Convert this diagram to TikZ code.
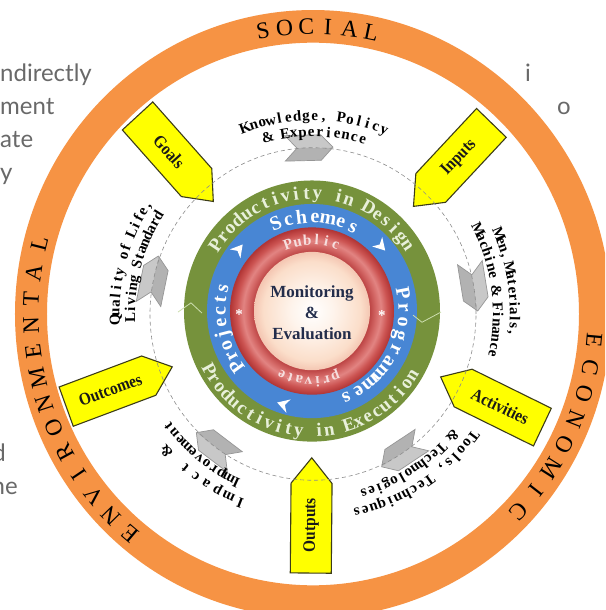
\documentclass[tikz,border=0pt]{standalone}
\usepackage{fontspec}
\usepackage{graphicx}
\setmainfont{Liberation Serif}
\newfontfamily\bgfont{Lato}
\definecolor{ringOrange}{RGB}{246,147,68}
\definecolor{ringGreen}{RGB}{118,146,60}
\definecolor{ringBlue}{RGB}{72,134,212}
\definecolor{greenTxt}{RGB}{232,240,218}
\definecolor{pinkTxt}{RGB}{246,222,222}
\definecolor{navyTxt}{RGB}{35,45,75}
\definecolor{arrowYellow}{RGB}{255,255,0}
\definecolor{arrowEdge}{RGB}{60,60,25}
\definecolor{chevFill}{RGB}{200,200,200}
\definecolor{chevDark}{RGB}{178,178,178}
\definecolor{chevEdge}{RGB}{150,150,150}
\definecolor{dashGray}{RGB}{140,140,140}
\definecolor{bgGray}{RGB}{105,105,105}
\definecolor{zigGreen}{RGB}{205,222,175}
\definecolor{tubeA}{RGB}{188,68,68}
\definecolor{tubeB}{RGB}{212,104,102}
\definecolor{tubeC}{RGB}{226,132,130}
\definecolor{tubeD}{RGB}{204,84,82}
\definecolor{tubeE}{RGB}{176,52,52}
\definecolor{peachA}{RGB}{255,255,255}
\definecolor{peachB}{RGB}{254,244,236}
\definecolor{peachC}{RGB}{251,222,202}
\definecolor{peachD}{RGB}{244,198,178}
\pgfdeclareradialshading{redtube}{\pgfpoint{0bp}{0bp}}{color(0bp)=(tubeA); color(17.6bp)=(tubeA); color(19.5bp)=(tubeB); color(21bp)=(tubeC); color(23bp)=(tubeD); color(25bp)=(tubeE); color(50bp)=(tubeE)}
\pgfdeclareradialshading{peach}{\pgfpoint{0bp}{0bp}}{color(0bp)=(peachA); color(9bp)=(peachB); color(21bp)=(peachC); color(25bp)=(peachD); color(50bp)=(peachD)}
\newlength\arcchw
% #1 name, #2 baseline radius, #3 first angle, #4 last angle, #5 rotation offset, #6 font, #7 colour, #8 characters
\newcommand\arctext[8]{%
  \xdef\arcW{0}\xdef\arcN{0}%
  \foreach \cc [count=\kk] in {#8} {%
    \settowidth{\arcchw}{#6\cc}%
    \pgfmathsetmacro\tmpw{\arcW+\arcchw}%
    \xdef\arcW{\tmpw}\xdef\arcN{\kk}%
    \ifnum\kk=1 \xdef\arcWa{\the\arcchw}\fi
    \xdef\arcWz{\the\arcchw}%
  }%
  \pgfmathsetmacro\arcLL{abs((#4)-(#3))*pi/180*(#2)}%
  \pgfmathsetmacro\arcGG{(\arcLL-(\arcW-\arcWa/2-\arcWz/2))/(\arcN-1)}%
  \xdef\arcL{\arcLL}\xdef\arcG{\arcGG}%
  \xdef\arcS{0}\xdef\arcPrev{0pt}%
  \foreach \cc [count=\kk] in {#8} {%
    \settowidth{\arcchw}{#6\cc}%
    \ifnum\kk=1 \xdef\arcS{0}\else
      \pgfmathsetmacro\tmps{\arcS+\arcPrev/2+\arcG+\arcchw/2}\xdef\arcS{\tmps}\fi
    \xdef\arcPrev{\the\arcchw}%
    \pgfmathsetmacro\arcF{\arcS/\arcL}%
    \pgfmathsetmacro\arcA{(#3)+((#4)-(#3))*\arcF}%
    \node[inner sep=0pt, anchor=base, font=#6, text=#7, rotate={\arcA+(#5)}] (#1\kk) at (\arcA:#2) {\cc};
  }%
}
% #1 name, #2 polar angle, #3 back radius, #4 text rotation, #5 label
\newcommand\yarrow[5]{%
  \begin{scope}[shift={(#2:#3)}, rotate=#2+180]
    \filldraw[yarrowst] (0,-20.5) -- (88,-20.5) -- (113,0) -- (88,20.5) -- (0,20.5) -- cycle;
    \node[ylab, rotate=#4] (#1) at (47,0) {\scalebox{0.88}[1]{#5}};
  \end{scope}}
% #1 polar angle, #2 radius
\newcommand\chevron[2]{%
  \begin{scope}[shift={(#1:#2)}, rotate=#1-90]
    \fill[chevFill] (-24,12.5) -- (12,12.5) -- (24,0) -- (-12,0) -- cycle;
    \fill[chevDark] (-12,0) -- (24,0) -- (12,-12.5) -- (-24,-12.5) -- cycle;
    \draw[chevst] (-24,12.5) -- (12,12.5) -- (24,0) -- (12,-12.5) -- (-24,-12.5) -- (-12,0) -- cycle;
  \end{scope}}
\newcommand\wchev[2]{%
  \begin{scope}[shift={(#1:#2)}, rotate=#1-90, scale=1.25]
    \fill[white] (-4.5,5.5) -- (5,0) -- (-4.5,-5.5) -- (-1.5,0) -- cycle;
  \end{scope}}
\newcommand\labfont{\bfseries\fontsize{15}{15}\selectfont}
\newcommand\ringfont{\fontsize{23.5}{23.5}\selectfont}
\begin{document}
\begin{tikzpicture}[x=1pt,y=1pt,
  bgtext/.style={font=\bgfont\fontsize{24}{24}\selectfont, text=bgGray, inner sep=0pt},
  yarrowst/.style={fill=arrowYellow, draw=arrowEdge, line width=1.1pt, line join=miter},
  ylab/.style={font=\bfseries\fontsize{17.5}{17.5}\selectfont, text=black!90, inner sep=0pt},
  chevst/.style={draw=chevEdge, line width=0.7pt},
  dashcirc/.style={draw=dashGray, line width=0.6pt, dash pattern=on 4pt off 3pt},
  zig/.style={draw=zigGreen, line width=0.8pt},
  star/.style={font=\bfseries\fontsize{15}{15}\selectfont, text=white, inner sep=0pt},
  centre/.style={font=\bfseries\fontsize{17}{21}\selectfont, text=navyTxt, align=center, inner sep=0pt}]
\useasboundingbox (-313,-296) rectangle (292,314);
\fill[white] (-313,-296) rectangle (292,314);
\clip (-313,-296) rectangle (292,314);
% page text behind the figure
\node[bgtext, anchor=base west] (bgA) at (-313,232) {ndirectly};
\node[bgtext, anchor=base west] (bgB) at (-313,199) {ment};
\node[bgtext, anchor=base west] (bgC) at (-313,166) {ate};
\node[bgtext, anchor=base west] (bgD) at (-313,133) {y};
\node[bgtext, anchor=base] (bgE) at (215,232) {i};
\node[bgtext, anchor=base] (bgF) at (251,199) {o};
\node[bgtext, anchor=base east] (bgG) at (-307,-147) {d};
\node[bgtext, anchor=base east] (bgH) at (-295,-180) {ne};
\begin{scope}[yscale=1.02]
  % outer ring
  \fill[ringOrange, even odd rule] (0,0) circle[radius=298] (0,0) circle[radius=266];
  \arctext{so}{274.5}{100.2}{78.1}{-90}{\ringfont}{black}{S,O,C,I,A,L}
  \arctext{en}{274.5}{229.7}{166.5}{-90}{\ringfont}{black}{E,N,V,I,R,O,N,M,E,N,T,A,L}
  \arctext{ec}{274.5}{-5.2}{-43.3}{-90}{\ringfont}{black}{E,C,O,N,O,M,I,C}
  % yellow arrows
  \yarrow{goals}{132.1}{261.7}{-47.9}{Goals}
  \yarrow{inputs}{46.4}{258.7}{46.4}{Inputs}
  \yarrow{activities}{-25.8}{254.8}{-25.8}{Activities}
  \yarrow{outputs}{-90.5}{254}{89.5}{Outputs}
  \yarrow{outcomes}{200.2}{263}{20.2}{Outcomes}
  % grey chevrons on the cycle
  \chevron{91.4}{163}
  \chevron{9.4}{163}
  \chevron{-57}{163}
  \chevron{-126.7}{163}
  \chevron{168.2}{163}
  \draw[dashcirc] (0,0) circle[radius=163];
  % cycle labels
  \arctext{kn}{190}{110.4}{68.5}{-90}{\labfont}{black}{K,n,o,w,l,e,d,g,e,{,},~,P,o,l,i,c,y}
  \arctext{ke}{174}{104.6}{73.8}{-90}{\labfont}{black}{\&,~,E,x,p,e,r,i,e,n,c,e}
  \arctext{mn}{197}{22.8}{-5.3}{-90}{\labfont}{black}{M,e,n,{,},~,M,a,t,e,r,i,a,l,s,{,}}
  \arctext{mc}{180}{26.5}{-12.3}{-90}{\labfont}{black}{M,a,c,h,i,n,e,~,\&,~,F,i,n,a,n,c,e}
  \arctext{tl}{195.5}{-36.8}{-77.3}{-90}{\labfont}{black}{T,o,o,l,s,{,},~,T,e,c,h,n,i,q,u,e,s}
  \arctext{tc}{179}{-40.6}{-73.8}{-90}{\labfont}{black}{\&,~,T,e,c,h,n,o,l,o,g,i,e,s}
  \arctext{im}{194}{-111.5}{-137.6}{-90}{\labfont}{black}{I,m,p,a,c,t,~,\&}
  \arctext{ip}{177.5}{-114.9}{-142.7}{-90}{\labfont}{black}{I,m,p,r,o,v,e,m,e,n,t}
  \arctext{ql}{193.5}{181.7}{147}{-90}{\labfont}{black}{Q,u,a,l,i,t,y,~,o,f,~,L,i,f,e,{,}}
  \arctext{lv}{178}{181}{148}{-90}{\labfont}{black}{L,i,v,i,n,g,~,S,t,a,n,d,a,r,d}
  % inner rings
  \begin{scope}[shift={(-1,2.9)}]
    \fill[ringGreen] (0,0) circle[radius=128];
    \fill[ringBlue] (0,0) circle[radius=105];
    \shade[shading=redtube] (0,0) circle[radius=82];
    \shade[shading=peach] (0,0) circle[radius=58];
    \draw[zig] (-134,-1) -- (-121,8) -- (-110,-2);
    \draw[zig] (101,-4) -- (110,-11) -- (129,-1);
    \arctext{pd}{110}{146}{34}{-90}{\bfseries\fontsize{19}{19}\selectfont}{greenTxt}{P,r,o,d,u,c,t,i,v,i,t,y,~,i,n,~,D,e,s,i,g,n}
    \arctext{pe}{123.5}{209}{328}{90}{\bfseries\fontsize{19}{19}\selectfont}{greenTxt}{P,r,o,d,u,c,t,i,v,i,t,y,~,i,n,~,E,x,e,c,u,t,i,o,n}
    \arctext{sc}{86.5}{113}{63.4}{-90}{\bfseries\fontsize{20}{20}\selectfont}{white}{S,c,h,e,m,e,s}
    \arctext{pg}{86.5}{11}{-68}{-90}{\bfseries\fontsize{20}{20}\selectfont}{white}{P,r,o,g,r,a,m,m,e,s}
    \arctext{pj}{86.5}{216}{166}{-90}{\bfseries\fontsize{20}{20}\selectfont}{white}{P,r,o,j,e,c,t,s}
    \arctext{pu}{65}{110}{70}{-90}{\bfseries\fontsize{15}{15}\selectfont}{pinkTxt}{P,u,b,l,i,c}
    \arctext{pv}{65}{-70}{-116}{-90}{\bfseries\fontsize{15}{15}\selectfont}{pinkTxt}{p,r,i,v,a,t,e}
    \wchev{140.5}{95}
    \wchev{42.8}{94}
    \wchev{-107.5}{96}
    \node[star] (starL) at (183:73) {*};
    \node[star] (starR) at (-4:70) {*};
    \node[centre] (me) at (0,-2) {Monitoring\\\&\\Evaluation};
  \end{scope}
\end{scope}
\end{tikzpicture}
\end{document}
